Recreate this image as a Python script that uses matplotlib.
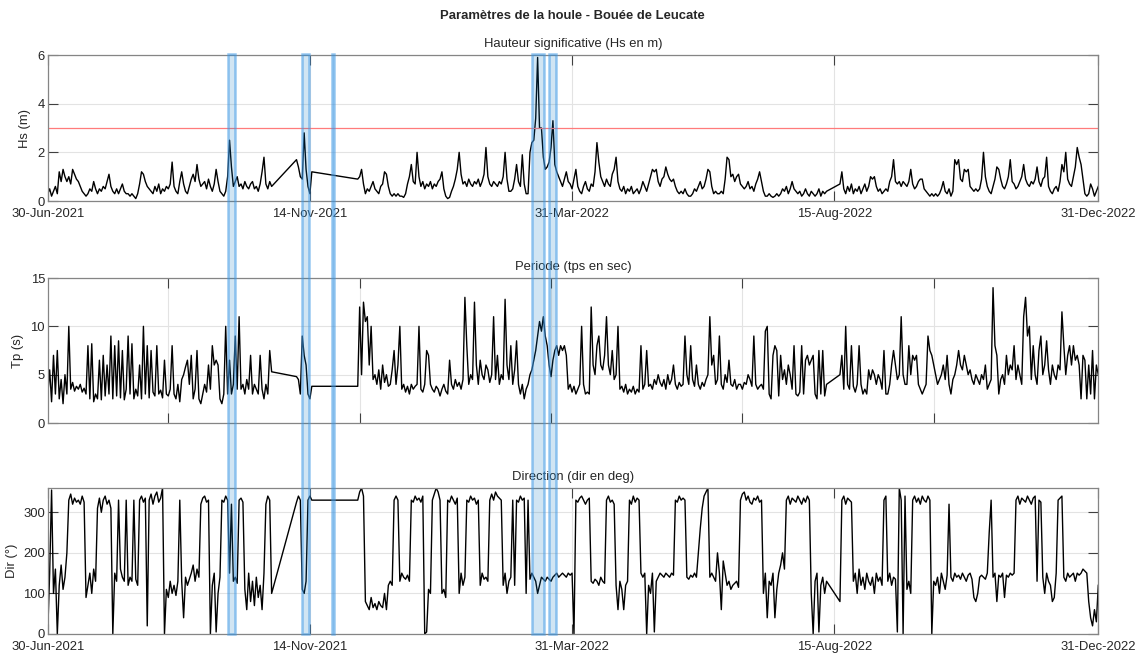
import numpy as np
import pandas as pd
import matplotlib
matplotlib.use("Agg")
import matplotlib.pyplot as plt
import matplotlib.dates as mdates
from matplotlib.patches import Rectangle
from matplotlib.transforms import blended_transform_factory

plt.rcParams['font.family'] = ['Liberation Sans', 'DejaVu Sans']

START = '2021-06-30'
END = '2022-12-31'

# days since START covered by the buoy record (lines join across the outages)
blocks = [(0, 117), (130, 138), (162, 407), (414, 549)]

# significant wave height (m), one value per day
hs = [
    0.3, 0.5, 0.2, 0.4, 0.6, 0.3, 1.2, 0.8, 1.3, 1.0,
    0.8, 1.0, 0.7, 1.3, 1.1, 0.9, 0.8, 0.6, 0.4, 0.3,
    0.2, 0.3, 0.5, 0.4, 0.8, 0.5, 0.3, 0.5, 0.4, 0.6,
    0.5, 0.8, 1.1, 0.6, 0.4, 0.3, 0.5, 0.3, 0.5, 0.7,
    0.4, 0.3, 0.3, 0.2, 0.3, 0.2, 0.1, 0.3, 0.7, 1.2,
    1.1, 0.8, 0.6, 0.5, 0.4, 0.3, 0.6, 0.4, 0.7, 0.3,
    0.5, 0.4, 0.6, 0.5, 0.7, 1.6, 0.6, 0.4, 0.3, 0.8,
    1.2, 0.7, 0.4, 0.3, 0.6, 0.9, 1.1, 0.8, 1.5, 0.9,
    0.6, 0.7, 0.8, 0.5, 0.9, 0.6, 0.4, 0.7, 1.3, 0.8,
    0.4, 0.3, 0.2, 0.4, 1.0, 2.5, 1.4, 0.6, 0.8, 1.0,
    0.6, 0.7, 0.5, 0.8, 0.6, 0.5, 0.7, 0.8, 0.5, 0.6,
    0.4, 0.7, 1.2, 1.8, 0.7, 0.5, 0.8, 0.6,
    # Nov 2021
    1.7, 1.4, 1.0, 0.9, 2.8, 1.3, 0.6, 0.3, 1.2,
    # Dec 2021 - Aug 2022
    0.9, 1.0, 1.3, 0.7, 0.3, 0.5, 0.4, 0.6, 0.8, 0.5,
    0.4, 0.3, 0.6, 0.7, 1.2, 1.1, 0.6, 0.3, 0.2, 0.3,
    0.2, 0.3, 0.2, 0.2, 0.15, 0.3, 0.7, 1.0, 1.5, 0.8,
    0.7, 2.0, 1.0, 0.6, 0.8, 0.5, 0.7, 0.6, 0.8, 0.5,
    0.7, 0.6, 0.8, 0.9, 1.2, 0.5, 0.2, 0.1, 0.15, 0.4,
    0.6, 0.9, 1.3, 2.0, 1.1, 0.7, 0.8, 0.6, 0.9, 0.7,
    0.6, 0.8, 0.7, 0.9, 0.6, 0.8, 1.1, 2.2, 1.0, 0.7,
    0.6, 0.8, 0.7, 0.6, 0.8, 0.7, 1.0, 2.0, 0.9, 0.4,
    0.4, 0.5, 0.9, 1.5, 0.8, 0.6, 1.9, 0.7, 0.3, 0.3,
    2.0, 2.4, 2.5, 3.4, 5.9, 3.0, 3.0, 1.8, 1.3, 1.4,
    1.6, 2.2, 3.3, 1.5, 1.2, 1.0, 0.8, 0.6, 0.9, 1.2,
    0.8, 0.7, 0.5, 0.9, 1.3, 0.6, 0.4, 0.3, 0.6, 0.8,
    0.5, 0.4, 0.7, 0.6, 1.2, 2.4, 1.6, 1.0, 0.8, 0.6,
    0.9, 0.7, 0.6, 1.1, 1.3, 1.8, 0.8, 0.5, 0.4, 0.6,
    0.3, 0.5, 0.4, 0.6, 0.3, 0.4, 0.5, 0.3, 0.5, 0.8,
    0.6, 0.4, 0.7, 1.0, 1.3, 1.2, 1.3, 0.8, 0.6, 0.9,
    1.0, 1.4, 1.1, 0.9, 0.8, 0.9, 0.6, 0.4, 0.3, 0.4,
    0.3, 0.5, 0.3, 0.2, 0.2, 0.3, 0.5, 0.4, 0.6, 0.8,
    0.5, 0.6, 0.9, 1.3, 1.2, 0.6, 0.3, 0.4, 0.3, 0.3,
    0.4, 0.3, 0.9, 1.8, 1.7, 1.0, 1.1, 0.8, 1.0, 1.1,
    0.7, 0.6, 0.5, 0.6, 0.8, 0.5, 0.6, 0.4, 0.7, 0.9,
    1.2, 0.8, 0.4, 0.2, 0.2, 0.3, 0.2, 0.15, 0.2, 0.3,
    0.2, 0.3, 0.5, 0.4, 0.6, 0.3, 0.5, 0.8, 0.5, 0.4,
    0.3, 0.4, 0.2, 0.3, 0.5, 0.3, 0.2, 0.4, 0.3, 0.2,
    0.3, 0.5, 0.2, 0.4, 0.3, 0.4,
    # mid Aug - Dec 2022
    0.7, 1.2, 0.5, 0.3, 0.6, 0.4, 0.7, 0.3, 0.5, 0.4,
    0.6, 0.3, 0.5, 0.7, 0.4, 0.6, 1.0, 0.9, 1.0, 0.6,
    0.4, 0.5, 0.3, 0.4, 0.5, 0.4, 0.8, 1.0, 1.7, 0.8,
    0.7, 0.8, 0.6, 0.8, 0.7, 0.6, 0.8, 1.3, 0.7, 0.5,
    0.6, 0.8, 0.9, 0.9, 0.5, 0.4, 0.3, 0.2, 0.3, 0.2,
    0.3, 0.2, 0.3, 0.5, 0.8, 0.4, 0.3, 0.5, 0.2, 0.4,
    1.7, 1.5, 1.7, 0.9, 0.8, 1.3, 1.2, 1.3, 0.6, 0.5,
    0.4, 0.5, 0.4, 0.5, 0.9, 2.0, 1.0, 0.6, 0.4, 0.3,
    0.6, 0.9, 1.4, 1.3, 0.9, 0.6, 0.5, 0.7, 1.0, 1.7,
    0.8, 0.7, 0.5, 0.6, 0.8, 1.0, 1.5, 0.9, 0.7, 0.6,
    0.8, 0.7, 0.9, 1.4, 0.8, 0.6, 0.9, 1.0, 1.8, 0.6,
    0.4, 0.3, 0.5, 0.6, 0.4, 0.8, 1.5, 1.2, 2.0, 0.9,
    0.7, 0.6, 1.0, 1.4, 2.2, 1.8, 1.5, 0.9, 0.3, 0.2,
    0.3, 0.7, 0.5, 0.2, 0.4, 0.6,
]

# peak period (s)
tp = [
    2.8, 5.5, 2.2, 7.0, 3.0, 7.5, 2.5, 4.5, 2.0, 5.0,
    3.0, 10.0, 3.5, 4.2, 3.3, 3.8, 3.5, 4.0, 3.2, 3.6,
    3.0, 8.0, 2.5, 8.2, 2.2, 3.0, 2.5, 6.5, 2.4, 7.0,
    2.8, 6.0, 3.0, 9.0, 2.5, 8.0, 2.8, 8.5, 2.6, 7.5,
    2.4, 3.5, 9.0, 3.0, 8.2, 2.5, 3.5, 2.8, 6.0, 2.5,
    10.0, 3.0, 8.0, 2.6, 7.5, 3.2, 2.8, 8.0, 3.0, 3.4,
    2.6, 6.5, 3.0, 2.8, 3.5, 8.0, 3.0, 2.5, 4.0, 2.2,
    4.5, 5.0, 5.8, 6.5, 4.0, 7.0, 2.5, 3.5, 7.5, 2.5,
    2.0, 3.0, 4.0, 3.2, 6.0, 3.5, 8.0, 6.0, 6.5, 6.0,
    2.5, 2.0, 3.0, 10.0, 3.0, 6.5, 3.0, 4.0, 9.0, 3.5,
    11.0, 3.5, 4.0, 3.0, 4.5, 3.5, 7.0, 3.0, 4.0, 3.5,
    3.0, 7.0, 3.5, 2.5, 4.0, 3.0, 7.5, 5.3,
    4.8, 4.5, 3.0, 9.0, 7.0, 6.0, 3.0, 2.5, 3.8,
    3.8, 12.0, 5.0, 12.5, 10.5, 11.0, 6.0, 10.0, 4.5, 5.0,
    4.0, 5.5, 3.5, 6.0, 4.2, 5.0, 3.8, 4.0, 5.5, 7.5,
    4.0, 6.0, 10.0, 3.5, 4.0, 3.2, 3.8, 3.0, 4.0, 3.5,
    3.8, 4.0, 10.0, 3.5, 3.2, 4.0, 7.5, 7.0, 4.0, 3.5,
    3.2, 3.8, 3.5, 2.8, 3.5, 4.0, 3.3, 3.0, 6.5, 4.0,
    3.5, 4.5, 3.8, 4.2, 3.5, 4.5, 13.0, 8.0, 4.0, 5.0,
    4.5, 12.5, 6.0, 4.0, 6.5, 5.0, 4.5, 6.0, 5.5, 4.2,
    5.0, 11.0, 4.5, 7.0, 4.0, 5.0, 4.5, 12.8, 6.0, 4.5,
    8.0, 4.0, 5.5, 8.5, 4.0, 3.0, 4.0, 2.5, 3.5, 4.0,
    5.0, 5.5, 6.5, 7.5, 9.0, 10.5, 9.5, 11.0, 9.0, 8.0,
    6.0, 4.8, 6.5, 7.5, 8.0, 7.0, 8.0, 7.5, 8.0, 7.0,
    3.5, 4.0, 3.2, 3.8, 3.0, 3.5, 4.0, 10.0, 4.0, 3.0,
    3.2, 3.0, 12.0, 6.0, 5.0, 8.0, 9.0, 6.0, 5.5, 7.0,
    11.0, 6.0, 5.0, 7.5, 4.5, 5.0, 10.0, 3.5, 3.8, 3.2,
    4.0, 3.0, 3.5, 3.2, 3.8, 3.0, 3.5, 3.2, 8.0, 3.5,
    4.0, 7.5, 3.8, 4.0, 3.5, 4.5, 4.0, 5.0, 4.2, 3.8,
    4.5, 3.5, 5.0, 4.0, 4.5, 6.0, 4.0, 3.5, 4.2, 3.8,
    4.0, 9.0, 5.0, 4.0, 8.0, 4.5, 3.8, 6.0, 4.0, 3.5,
    4.2, 3.8, 4.5, 5.0, 11.0, 6.0, 7.0, 4.0, 4.5, 9.0,
    4.0, 3.5, 5.0, 4.2, 6.5, 4.0, 3.8, 4.5, 3.5, 4.0,
    4.0, 3.5, 4.2, 4.0, 5.0, 4.5, 3.8, 9.0, 4.0, 3.5,
    3.8, 4.0, 3.5, 9.5, 10.0, 3.0, 2.5, 7.0, 8.0, 7.5,
    2.8, 7.0, 4.5, 5.5, 4.0, 6.0, 5.0, 3.5, 8.0, 3.0,
    2.8, 3.2, 8.0, 3.0, 6.5, 7.0, 6.0, 6.5, 7.0, 3.0,
    2.5, 7.5, 3.0, 7.5, 2.8, 4.0,
    5.0, 7.0, 3.5, 10.0, 4.0, 3.5, 8.0, 3.8, 3.2, 4.0,
    8.0, 4.0, 3.0, 3.5, 3.0, 5.5, 4.5, 5.5, 5.0, 4.0,
    5.0, 4.5, 3.5, 7.5, 3.0, 3.0, 4.0, 6.0, 7.5, 6.0,
    4.5, 5.0, 11.0, 5.0, 4.0, 4.0, 8.0, 5.0, 7.0, 6.5,
    7.0, 4.0, 3.5, 3.0, 3.5, 4.0, 9.0, 7.5, 7.0, 6.0,
    5.0, 4.0, 4.5, 5.0, 6.0, 4.5, 7.0, 4.0, 3.0, 4.5,
    5.0, 6.0, 7.5, 6.0, 5.5, 7.0, 6.0, 5.0, 5.5, 4.5,
    4.0, 5.0, 4.5, 4.0, 5.0, 4.5, 6.0, 3.5, 4.0, 4.5,
    14.0, 8.0, 7.0, 3.0, 4.5, 5.0, 4.0, 7.0, 5.0, 6.0,
    5.5, 8.0, 4.5, 6.0, 5.0, 4.0, 11.0, 13.0, 9.0, 10.0,
    4.5, 8.0, 5.0, 4.0, 7.5, 9.0, 5.0, 6.0, 8.5, 5.5,
    4.0, 6.0, 5.0, 4.5, 6.0, 5.5, 11.5, 8.0, 5.0, 7.0,
    8.0, 6.0, 8.0, 6.5, 7.0, 6.0, 2.5, 7.0, 6.5, 2.5,
    6.0, 3.0, 7.5, 2.5, 6.0, 5.0,
]

# mean direction (deg), values near 0/360 are northerly
direction = [
    5, 150, 355, 100, 160, 0, 120, 170, 110, 140,
    200, 330, 345, 320, 335, 325, 330, 320, 340, 325,
    90, 120, 150, 100, 160, 130, 310, 335, 300, 330,
    340, 320, 330, 310, 0, 150, 130, 330, 160, 140,
    130, 330, 120, 140, 130, 330, 135, 120, 330, 340,
    325, 335, 20, 330, 345, 320, 340, 350, 325, 335,
    360, 0, 110, 90, 130, 100, 120, 95, 130, 330,
    130, 40, 140, 120, 135, 150, 170, 130, 160, 140,
    320, 335, 340, 325, 330, 0, 120, 150, 5, 100,
    140, 330, 325, 340, 330, 150, 320, 130, 140, 125,
    330, 335, 325, 110, 60, 150, 80, 130, 70, 140,
    90, 120, 60, 150, 320, 340, 330, 100,
    325, 340, 330, 110, 100, 130, 330, 340, 330,
    330, 350, 360, 340, 80, 70, 60, 90, 65, 75,
    60, 80, 70, 65, 100, 60, 120, 130, 120, 330,
    340, 330, 130, 150, 140, 135, 145, 130, 330, 325,
    340, 330, 335, 325, 340, 0, 5, 110, 100, 330,
    345, 360, 350, 330, 100, 110, 90, 330, 325, 340,
    330, 320, 335, 100, 150, 120, 140, 330, 325, 340,
    330, 335, 320, 330, 120, 150, 135, 140, 130, 330,
    345, 330, 350, 340, 335, 330, 120, 150, 100, 130,
    140, 330, 120, 330, 325, 340, 330, 335, 100, 330,
    135, 150, 140, 130, 100, 120, 140, 135, 130, 140,
    135, 130, 140, 145, 150, 140, 145, 150, 145, 140,
    150, 145, 150, 0, 330, 325, 335, 340, 330, 320,
    330, 335, 130, 125, 135, 130, 120, 140, 130, 125,
    330, 340, 325, 330, 320, 120, 60, 130, 110, 60,
    120, 130, 330, 320, 340, 325, 335, 330, 150, 140,
    150, 0, 120, 100, 150, 5, 130, 140, 150, 145,
    140, 150, 145, 140, 150, 145, 330, 325, 340, 330,
    335, 330, 140, 135, 145, 140, 150, 140, 200, 260,
    310, 340, 350, 360, 140, 150, 140, 130, 200, 150,
    60, 180, 150, 120, 130, 110, 120, 125, 130, 115,
    330, 345, 350, 330, 340, 325, 320, 335, 330, 340,
    325, 330, 100, 150, 40, 130, 120, 150, 40, 110,
    150, 170, 200, 160, 330, 340, 320, 335, 330, 325,
    340, 330, 320, 335, 325, 340, 330, 100, 0, 130,
    150, 5, 120, 140, 100, 130,
    80, 330, 340, 320, 335, 330, 325, 130, 150, 100,
    160, 120, 140, 110, 150, 130, 120, 140, 100, 150,
    130, 140, 120, 330, 340, 130, 150, 120, 140, 135,
    5, 360, 330, 0, 340, 110, 130, 100, 330, 340,
    325, 335, 320, 340, 330, 325, 340, 330, 0, 130,
    120, 140, 100, 150, 130, 110, 145, 320, 140, 130,
    150, 140, 145, 135, 150, 140, 130, 145, 150, 135,
    90, 80, 100, 140, 145, 140, 135, 150, 250, 330,
    140, 150, 80, 145, 140, 150, 90, 145, 140, 150,
    145, 150, 330, 340, 320, 335, 330, 325, 340, 330,
    320, 335, 340, 130, 330, 325, 140, 100, 150, 130,
    120, 80, 90, 150, 330, 335, 340, 140, 130, 150,
    140, 145, 150, 130, 150, 145, 150, 160, 155, 150,
    80, 40, 20, 60, 30, 120,
]

hs_limit = 3.0

# storm periods highlighted across the three panels
event_start = ['2021-10-02 09:00', '2021-11-10 02:00', '2021-11-25 12:00',
               '2022-03-10 00:00', '2022-03-19 05:00']
event_end = ['2021-10-05 21:00', '2021-11-13 17:00', '2021-11-26 17:00',
             '2022-03-16 14:00', '2022-03-22 17:00']

date_ticks = ['2021-06-30', '2021-11-14', '2022-03-31', '2022-08-15', '2022-12-31']
tp_ticks = ['2021-09-01', '2021-12-10', '2022-03-20', '2022-06-28', '2022-10-06']

days = np.concatenate([np.arange(a, b + 1) for a, b in blocks])
dates = pd.Timestamp(START) + pd.to_timedelta(days, unit='D')

fig = plt.figure(figsize=(11.45, 6.58), dpi=100)
left, width = 0.0417, 0.9175
ax_hs = fig.add_axes([left, 0.6945, width, 0.2219])
ax_tp = fig.add_axes([left, 0.3571, width, 0.2204])
ax_dir = fig.add_axes([left, 0.0365, width, 0.2219])

spine_col = '#858585'
text_col = '#262626'
grid_col = '#e3e3e3'
fs = 9.4


def style(ax, ticks, labels, label_x):
    ax.set_xlim(pd.Timestamp(START), pd.Timestamp(END))
    ax.set_xticks(pd.to_datetime(ticks))
    if labels:
        ax.xaxis.set_major_formatter(mdates.DateFormatter('%d-%b-%Y'))
    else:
        ax.set_xticklabels([])
    ax.tick_params(direction='in', length=7, width=0.8, color='#404040',
                   top=True, right=True, labelsize=fs, labelcolor=text_col)
    ax.tick_params(axis='x', pad=5)
    ax.tick_params(axis='y', pad=2)
    for s in ax.spines.values():
        s.set_color(spine_col)
        s.set_linewidth(0.9)
    ax.grid(True, color=grid_col, linewidth=0.8)
    ax.set_axisbelow(True)
    ax.yaxis.set_label_coords(label_x, 0.5)


ax_hs.plot(dates, hs, color='black', lw=1.0)
ax_hs.axhline(hs_limit, color='#ff7b7b', lw=0.9)
ax_hs.set_ylim(0, 6)
ax_hs.set_yticks([0, 2, 4, 6])
style(ax_hs, date_ticks, True, -0.0164)
ax_hs.set_ylabel('Hs (m)', fontsize=fs, color=text_col)
ax_hs.set_title('Hauteur significative (Hs en m)', fontsize=fs, color=text_col, pad=6)

ax_tp.plot(dates, tp, color='black', lw=1.0)
ax_tp.set_ylim(0, 15)
ax_tp.set_yticks([0, 5, 10, 15])
style(ax_tp, tp_ticks, False, -0.023)
ax_tp.set_ylabel('Tp (s)', fontsize=fs, color=text_col)
ax_tp.set_title('Periode (tps en sec)', fontsize=fs, color=text_col, pad=6)

ax_dir.plot(dates, direction, color='black', lw=1.0)
ax_dir.set_ylim(0, 360)
ax_dir.set_yticks([0, 100, 200, 300])
style(ax_dir, date_ticks, True, -0.0285)
ax_dir.set_ylabel('Dir (°)', fontsize=fs, color=text_col)
ax_dir.set_title('Direction (dir en deg)', fontsize=fs, color=text_col, pad=6)

fig.suptitle('Paramètres de la houle - Bouée de Leucate', fontsize=fs,
             fontweight='bold', color=text_col, y=0.985)

# shaded storm bands spanning all panels
trans = blended_transform_factory(ax_hs.transData, fig.transFigure)
y0, y1 = 0.0365, 0.918
for s, e in zip(event_start, event_end):
    x0 = mdates.date2num(pd.Timestamp(s))
    x1 = mdates.date2num(pd.Timestamp(e))
    fig.add_artist(Rectangle((x0, y0), x1 - x0, y1 - y0, transform=trans,
                             facecolor=(0.0, 0.45, 0.74, 0.18),
                             edgecolor=(0.25, 0.6, 0.9, 0.55), linewidth=1.8))

fig.savefig('out.png', dpi=100)
